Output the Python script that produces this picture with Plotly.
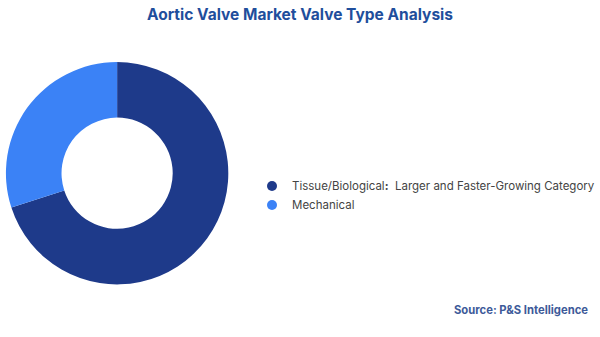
import plotly.graph_objects as go

categories = ["Tissue/Biological<b>:</b>  Larger and Faster-Growing Category", "Mechanical"]
shares = [70, 30]
colors = ["#1e3a8a", "#3b82f6"]

fig = go.Figure()
fig.add_trace(go.Pie(
    labels=categories, values=shares, hole=0.5, sort=False, direction="clockwise",
    rotation=0, marker=dict(colors=colors, line=dict(width=0)),
    textinfo="none", hoverinfo="label+percent", showlegend=False,
    domain=dict(x=[0.01, 0.385], y=[0.152, 0.82]),
))
for lab, col in zip(categories, colors):
    fig.add_trace(go.Scatter(
        x=[None], y=[None], mode="markers", name=lab,
        marker=dict(symbol="circle", size=10, color=col),
    ))

fig.update_layout(
    width=600, height=337, margin=dict(l=0, r=0, t=0, b=0),
    paper_bgcolor="white", plot_bgcolor="white",
    font=dict(family="Inter, Noto Sans, sans-serif", color="#444444", size=11),
    title=dict(text="<b>Aortic Valve Market Valve Type Analysis</b>", x=0.5, xanchor="center",
               y=0.957, yanchor="middle", font=dict(size=15.5, color="#1f4e9c")),
    xaxis=dict(visible=False), yaxis=dict(visible=False),
    legend=dict(x=0.425, xanchor="left", y=0.42, yanchor="middle", itemwidth=30,
                font=dict(size=11.5, color="#444444"), tracegroupgap=0, bgcolor="rgba(0,0,0,0)"),
    annotations=[dict(text="<b>Source: P&S Intelligence</b>", xref="paper", yref="paper",
                      x=0.995, y=0.08, xanchor="right", yanchor="middle", showarrow=False,
                      font=dict(size=11.25, color="#3d5a99"))],
)
fig.write_html("out.html")
